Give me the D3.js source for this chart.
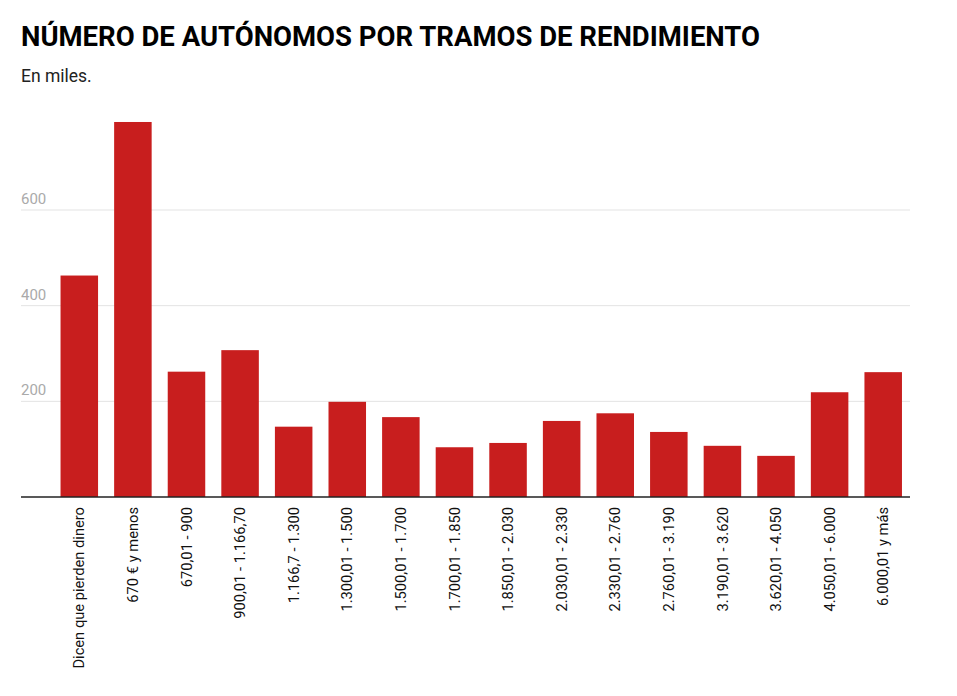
<!DOCTYPE html>
<html>
<head>
<meta charset="utf-8">
<script src="https://cdn.jsdelivr.net/npm/d3@7"></script>
<style>
  body { margin: 0; background: #fff; }
  svg { display: block; font-family: Roboto, sans-serif; }
</style>
</head>
<body>
<svg id="chart" width="957" height="696"></svg>
<script>
const categories = [
  "Dicen que pierden dinero", "670 € y menos", "670,01 - 900", "900,01 - 1.166,70",
  "1.166,7 - 1.300", "1.300,01 - 1.500", "1.500,01 - 1.700", "1.700,01 - 1.850",
  "1.850,01 - 2.030", "2.030,01 - 2.330", "2.330,01 - 2.760", "2.760,01 - 3.190",
  "3.190,01 - 3.620", "3.620,01 - 4.050", "4.050,01 - 6.000", "6.000,01 y más"
];
const values = [463, 784, 262, 307, 147, 199, 167, 104, 113, 159, 175, 136, 107, 86, 219, 261];
const yTicks = [200, 400, 600];
const title = "NÚMERO DE AUTÓNOMOS POR TRAMOS DE RENDIMIENTO";
const subtitle = "En miles.";

const svg = d3.select("#chart");
const left = 21, right = 910, baseY = 497;

const x = d3.scaleBand().domain(categories).range([52.5, 910]).paddingInner(0.3).paddingOuter(0.15);
const y = d3.scaleLinear().domain([0, 600]).range([baseY, 210]);

svg.append("text").attr("x", 21).attr("y", 46)
  .attr("font-size", 27.5).attr("font-weight", 700).attr("fill", "#000")
  .text(title);
svg.append("text").attr("x", 21).attr("y", 82)
  .attr("font-size", 17.5).attr("fill", "#222")
  .text(subtitle);

// gridlines + tick labels
const grid = svg.append("g");
grid.selectAll("line").data(yTicks).join("line")
  .attr("x1", left).attr("x2", right)
  .attr("y1", d => y(d)).attr("y2", d => y(d))
  .attr("stroke", "#e3e3e3").attr("stroke-width", 1);
grid.selectAll("text").data(yTicks).join("text")
  .attr("x", left).attr("y", d => y(d) - 6)
  .attr("font-size", 15).attr("fill", "#aaa")
  .text(d => d);

// bars
svg.append("g").selectAll("rect").data(values).join("rect")
  .attr("x", (d, i) => x(categories[i]))
  .attr("width", x.bandwidth())
  .attr("y", d => y(d))
  .attr("height", d => y(0) - y(d))
  .attr("fill", "#c81e1e");

// baseline
svg.append("line").attr("x1", left).attr("x2", right)
  .attr("y1", baseY).attr("y2", baseY)
  .attr("stroke", "#222").attr("stroke-width", 1.5);

// x labels
const xAxis = d3.axisBottom(x).tickSize(0).tickPadding(0);
const gx = svg.append("g").attr("transform", `translate(0,${baseY})`).call(xAxis);
gx.select(".domain").remove();
gx.selectAll("text")
  .attr("font-family", "Roboto, sans-serif")
  .attr("font-size", 14.7).attr("fill", "#111")
  .attr("text-anchor", "end")
  .attr("dy", "0.35em")
  .attr("transform", "translate(0,10) rotate(-90)")
  .attr("x", 0).attr("y", 0);
</script>
</body>
</html>
